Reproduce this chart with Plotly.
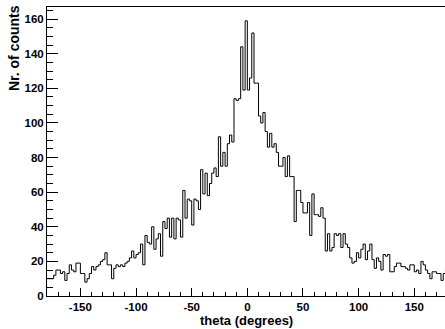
import numpy as np
import plotly.graph_objects as go

# Histogram of theta: 180 bins of 2 degrees from -180 to 180
theta_min = -180.0
theta_max = 180.0
counts = [
    10, 10, 10, 12, 15, 15, 13, 14, 9, 13,
    18, 15, 14, 19, 19, 13, 13, 8, 10, 13,
    17, 15, 17, 18, 20, 21, 25, 18, 18, 10,
    16, 18, 17, 18, 17, 19, 20, 22, 26, 22,
    24, 25, 30, 18, 35, 31, 30, 40, 27, 33,
    36, 23, 43, 39, 45, 34, 45, 33, 45, 44,
    34, 61, 45, 56, 55, 41, 56, 55, 50, 73,
    59, 71, 58, 65, 71, 74, 69, 92, 75, 83,
    75, 88, 93, 89, 114, 113, 114, 144, 119, 159,
    119, 126, 152, 123, 123, 104, 100, 106, 95, 86,
    94, 86, 88, 83, 75, 75, 80, 69, 81, 69,
    69, 43, 61, 61, 54, 48, 48, 54, 35, 59,
    47, 47, 46, 51, 45, 26, 36, 26, 28, 36,
    35, 36, 28, 36, 30, 28, 22, 19, 20, 25,
    22, 27, 30, 21, 26, 30, 21, 16, 22, 20,
    15, 24, 23, 24, 14, 14, 17, 19, 19, 17,
    17, 16, 15, 18, 18, 14, 15, 13, 20, 18,
    15, 13, 10, 14, 14, 13, 13, 9, 13, 16,
]
x_ticks = [-150, -100, -50, 0, 50, 100, 150]
y_ticks = [0, 20, 40, 60, 80, 100, 120, 140, 160]

edges = np.linspace(theta_min, theta_max, len(counts) + 1)
step_y = counts + [counts[-1]]

font_family = "Liberation Sans, Arial, Helvetica, sans-serif"
tick_font = dict(family=font_family, size=11.5, color="black", weight="bold")

fig = go.Figure()
fig.add_trace(go.Scatter(
    x=edges, y=step_y, mode="lines", line_shape="hv",
    line=dict(color="black", width=1), hoverinfo="skip", showlegend=False,
))

fig.update_layout(
    width=445, height=329,
    margin=dict(l=47, r=0, t=7, b=33),
    paper_bgcolor="white", plot_bgcolor="white",
    font=dict(family=font_family, size=12, color="black"),
    xaxis=dict(
        range=[-180, 177.6], tickvals=x_ticks, ticktext=[str(v) for v in x_ticks],
        ticks="inside", ticklen=8, tickwidth=1, tickcolor="black",
        minor=dict(ticks="inside", ticklen=4, dtick=10, tick0=0, tickcolor="black", tickwidth=1),
        showline=True, linecolor="black", linewidth=1, mirror=True,
        showgrid=False, zeroline=False, ticklabelstandoff=0,
        tickfont=tick_font,
    ),
    yaxis=dict(
        range=[0, 167], tickvals=y_ticks, ticktext=[str(v) for v in y_ticks],
        ticks="inside", ticklen=11, tickwidth=1, tickcolor="black",
        minor=dict(ticks="inside", ticklen=6, dtick=5, tick0=0, tickcolor="black", tickwidth=1),
        showline=True, linecolor="black", linewidth=1, mirror=False,
        showgrid=False, zeroline=False,
        tickfont=tick_font,
    ),
    annotations=[
        dict(text="<b>theta (degrees)</b>", xref="paper", yref="paper",
             x=0.5, y=0, xanchor="center", yanchor="top", yshift=-15,
             showarrow=False, font=dict(family=font_family, size=13, color="black")),
        dict(text="<b>Nr. of counts</b>", xref="paper", yref="paper",
             x=0, y=1, xanchor="center", yanchor="top", xshift=-33, yshift=4,
             textangle=-90, showarrow=False,
             font=dict(family=font_family, size=14, color="black")),
    ],
)

fig.write_html("out.html")
